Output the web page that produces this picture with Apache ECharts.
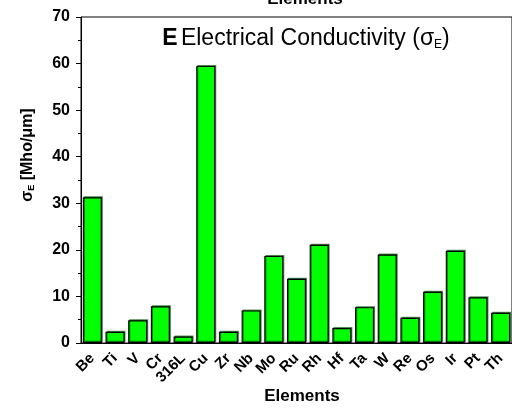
<!DOCTYPE html>
<html><head><meta charset="utf-8">
<script src="https://cdn.jsdelivr.net/npm/echarts@6/dist/echarts.min.js"></script>
<style>html,body{margin:0;padding:0;background:#fff}#c{width:512px;height:408px}</style>
</head><body><div id="c"></div>
<script>
const categories = ['Be','Ti','V','Cr','316L','Cu','Zr','Nb','Mo','Ru','Rh','Hf','Ta','W','Re','Os','Ir','Pt','Th'];
const conductivity = [31.3,2.4,4.9,7.9,1.4,59.5,2.4,7.0,18.7,13.8,21.1,3.2,7.7,19.0,5.4,11.0,19.8,9.8,6.5];
const yTicks = [0,10,20,30,40,50,60,70];

const chart = echarts.init(document.getElementById('c'), null, {renderer:'canvas'});
const F = 'Liberation Sans, Arial, sans-serif';
chart.setOption({
  animation:false,
  backgroundColor:'#fff',
  grid:{left:81, top:17, right:-10, bottom:65, show:true, borderColor:'#000', borderWidth:1, backgroundColor:'transparent'},
  xAxis:[{
    type:'category', data:categories, position:'bottom',
    axisLine:{lineStyle:{color:'#000', width:1}},
    axisTick:{alignWithLabel:true, length:6, lineStyle:{color:'#000', width:1}},
    axisLabel:{rotate:45, interval:0, fontFamily:F, fontWeight:'bold', fontSize:15, color:'#000', margin:13},
    splitLine:{show:false}
  },{
    type:'category', data:categories, position:'bottom', gridIndex:0,
    axisLine:{show:false},
    axisTick:{alignWithLabel:false, length:3, lineStyle:{color:'#000', width:1}},
    axisLabel:{show:false}, splitLine:{show:false}
  }],
  yAxis:{
    type:'value', min:0, max:70, interval:10,
    axisLine:{show:true, lineStyle:{color:'#000', width:1}},
    axisTick:{show:true, length:5, lineStyle:{color:'#000'}},
    minorTick:{show:true, splitNumber:2, length:3, lineStyle:{color:'#000'}},
    axisLabel:{fontFamily:F, fontWeight:'bold', fontSize:16, color:'#000', margin:11,
      formatter:(v)=> yTicks.includes(v) ? String(v) : ''},
    splitLine:{show:false}
  },
  series:[{
    type:'bar', data:conductivity, xAxisIndex:0, barCategoryGap:'16%',
    itemStyle:{color:'#00ff00', borderColor:'#000', borderWidth:1.2,
      shadowColor:'rgba(0,80,0,0.6)', shadowOffsetX:1, shadowOffsetY:-1, shadowBlur:0}
  }],
  graphic:[
    {type:'text', x:305, y:-9, style:{text:'Elements', font:'bold 17px '+F, fill:'#000', align:'center'}},
    {type:'text', x:302, y:388, style:{text:'Elements', font:'bold 17px '+F, fill:'#000', align:'center'}},
    {type:'text', x:306, y:39, style:{
      text:'{b|E} {n|Electrical Conductivity (σ}{s|E}{n|)}',
      align:'center', verticalAlign:'middle',
      rich:{
        b:{font:'bold 23px '+F, fill:'#000'},
        n:{font:'23px '+F, fill:'#000'},
        s:{font:'12px '+F, fill:'#000', padding:[12,0,0,0]}
      }}},
    {type:'text', x:28, y:155, rotation:Math.PI/2, style:{
      text:'{b|σ}{s|E}{b| [Mho/μm]}', align:'center', verticalAlign:'middle',
      rich:{
        b:{font:'bold 16px '+F, fill:'#000'},
        s:{font:'bold 9px '+F, fill:'#000', padding:[7,0,0,0]}
      }}}
  ]
});
</script></body></html>
